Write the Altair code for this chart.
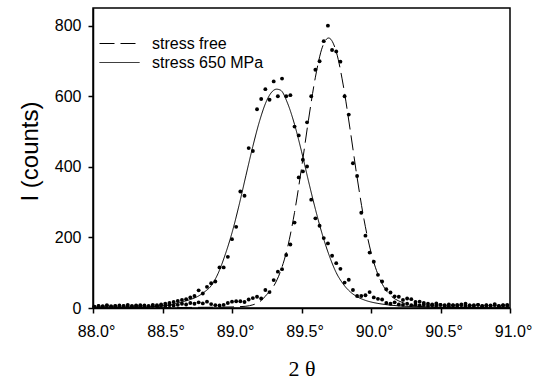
import altair as alt
import pandas as pd

# ---- data ----
two_theta = [
    88.01, 88.04, 88.07, 88.10, 88.13, 88.16, 88.19, 88.22, 88.25, 88.28,
    88.31, 88.34, 88.37, 88.40, 88.43, 88.46, 88.49, 88.52, 88.55, 88.58,
    88.61, 88.64, 88.67, 88.70, 88.73, 88.76, 88.79, 88.82, 88.85, 88.88,
    88.91, 88.94, 88.97, 89.00, 89.03, 89.06, 89.09, 89.12, 89.15, 89.18,
    89.21, 89.24, 89.27, 89.30, 89.33, 89.36, 89.39, 89.42, 89.45, 89.48,
    89.51, 89.54, 89.57, 89.60, 89.63, 89.66, 89.69, 89.72, 89.75, 89.78,
    89.81, 89.84, 89.87, 89.90, 89.93, 89.96, 89.99, 90.02, 90.05, 90.08,
    90.11, 90.14, 90.17, 90.20, 90.23, 90.26, 90.29, 90.32, 90.35, 90.38,
    90.41, 90.44, 90.47, 90.50, 90.53, 90.56, 90.59, 90.62, 90.65, 90.68,
    90.71, 90.74, 90.77, 90.80, 90.83, 90.86, 90.89, 90.92, 90.95, 90.98,
]

counts_free = [
    3, 5, 4, 6, 3, 5, 4, 6, 5, 4,
    7, 5, 6, 4, 6, 5, 7, 6, 8, 7,
    9, 12, 10, 14, 12, 16, 13, 18, 11, 8,
    7, 9, 14, 18, 19, 19, 17, 24, 28, 32,
    27, 51, 45, 79, 103, 110, 150, 180, 242, 370,
    387, 526, 600, 675, 699, 756, 800, 731, 727, 698,
    600, 548, 410, 374, 270, 205, 157, 131, 94, 75,
    53, 44, 33, 32, 23, 27, 25, 17, 18, 14,
    12, 10, 13, 9, 8, 10, 7, 9, 8, 12,
    7, 8, 9, 6, 8, 7, 11, 6, 8, 9,
]

counts_650 = [
    4, 6, 5, 8, 5, 6, 7, 5, 9, 6,
    5, 8, 7, 6, 9, 8, 10, 12, 14, 17,
    20, 23, 25, 30, 34, 50, 41, 60, 70, 75,
    115, 115, 145, 195, 230, 330, 318, 453, 445, 563,
    592, 620, 590, 642, 600, 650, 600, 603, 514, 489,
    420, 401, 307, 254, 233, 198, 183, 148, 127, 111,
    72, 80, 51, 34, 34, 36, 45, 30, 26, 24,
    14, 12, 16, 10, 9, 12, 8, 10, 7, 9,
    6, 8, 7, 9, 6, 5, 8, 6, 10, 5,
    7, 6, 9, 5, 7, 6, 8, 5, 7, 6,
]

fit_free_x = [88.00, 88.50, 88.80, 89.00, 89.10, 89.15, 89.20, 89.25, 89.30, 89.35,
              89.40, 89.45, 89.50, 89.55, 89.60, 89.65, 89.695, 89.75, 89.80, 89.85,
              89.90, 89.95, 90.00, 90.05, 90.10, 90.15, 90.20, 90.25, 90.30, 90.40,
              90.60, 91.00]
fit_free_y = [0, 1, 2, 3, 5, 9, 18, 38, 62, 105,
              172, 271, 396, 532, 654, 739, 765, 726, 632, 505,
              370, 250, 158, 95, 55, 32, 20, 12, 7, 3,
              1, 0]

fit_650_x = [88.00, 88.20, 88.40, 88.50, 88.55, 88.60, 88.65, 88.70, 88.75, 88.80,
             88.85, 88.90, 88.95, 89.00, 89.05, 89.10, 89.15, 89.20, 89.25, 89.30,
             89.32, 89.35, 89.40, 89.45, 89.50, 89.55, 89.60, 89.65, 89.70, 89.75,
             89.80, 89.85, 89.90, 89.95, 90.00, 90.05, 90.10, 90.20, 90.30, 90.50,
             90.75, 91.00]
fit_650_y = [0, 1, 3, 6, 9, 13, 18, 24, 32, 45,
             63, 98, 150, 213, 290, 375, 458, 532, 588, 617,
             620, 617, 580, 520, 444, 360, 280, 208, 148, 100,
             68, 46, 32, 23, 17, 13, 10, 6, 4, 2,
             1, 0]

series_names = ["stress free", "stress 650 MPa"]
x_ticks = [88.0, 88.5, 89.0, 89.5, 90.0, 90.5, 91.0]
y_ticks = [0, 200, 400, 600, 800]

# ---- tables ----
points = pd.DataFrame({
    "x": two_theta + two_theta,
    "y": counts_free + counts_650,
    "s": [series_names[0]] * len(two_theta) + [series_names[1]] * len(two_theta),
})
fits = pd.DataFrame({
    "x": fit_free_x + fit_650_x,
    "y": fit_free_y + fit_650_y,
    "s": [series_names[0]] * len(fit_free_x) + [series_names[1]] * len(fit_650_x),
})

FONT = "Liberation Sans"
xs = alt.Scale(domain=[88, 91], nice=False, zero=False)
ys = alt.Scale(domain=[0, 850], nice=False)

x_axis = alt.Axis(
    values=x_ticks,
    labelExpr="format(datum.value, '.1f') + '°'",
    title="2 θ",
    titleFont="Liberation Serif",
    titleFontSize=22,
    titleFontWeight="normal",
    titleColor="black",
    titlePadding=19,
    labelFont=FONT,
    labelFontSize=16,
    labelColor="black",
    labelPadding=10,
    labelOffset=3,
    labelFlush=False,
    grid=False,
    tickSize=5,
    tickColor="black",
    domainColor="black",
)
y_axis = alt.Axis(
    values=y_ticks,
    title="I (counts)",
    titleFont=FONT,
    titleFontSize=24,
    titleFontWeight="normal",
    titleColor="black",
    titlePadding=12,
    titleY=143,
    labelFont=FONT,
    labelFontSize=16,
    labelColor="black",
    labelPadding=7,
    grid=False,
    tickSize=5,
    tickColor="black",
    domainColor="black",
)

lines = alt.Chart(fits).mark_line(color="black", strokeWidth=1, interpolate="monotone").encode(
    x=alt.X("x:Q", scale=xs, axis=x_axis),
    y=alt.Y("y:Q", scale=ys, axis=y_axis),
    strokeDash=alt.StrokeDash(
        "s:N",
        scale=alt.Scale(domain=series_names, range=[[15, 6], [1, 0]]),
        legend=alt.Legend(
            title=None,
            orient="none",
            legendX=6,
            legendY=26,
            symbolType="stroke",
            symbolSize=1600,
            symbolStrokeWidth=1,
            symbolStrokeColor="black",
            labelFont=FONT,
            labelFontSize=16,
            labelColor="black",
            labelOffset=12,
            clipHeight=19,
            rowPadding=0,
            padding=0,
        ),
    ),
)

dots = alt.Chart(points).mark_circle(color="black", size=15, opacity=1).encode(
    x=alt.X("x:Q", scale=xs),
    y=alt.Y("y:Q", scale=ys),
)

chart = alt.layer(lines, dots).properties(
    width=417,
    height=300,
    autosize=alt.AutoSizeParams(type="none"),
    padding={"left": 93, "top": 8, "right": 40, "bottom": 71},
    background="white",
).configure_view(
    stroke="black",
    strokeWidth=1.5,
).configure_axis(
    domainWidth=1.5,
    tickWidth=1.5,
)

chart.save("out.html", embed_options={"renderer": "svg", "actions": False})
